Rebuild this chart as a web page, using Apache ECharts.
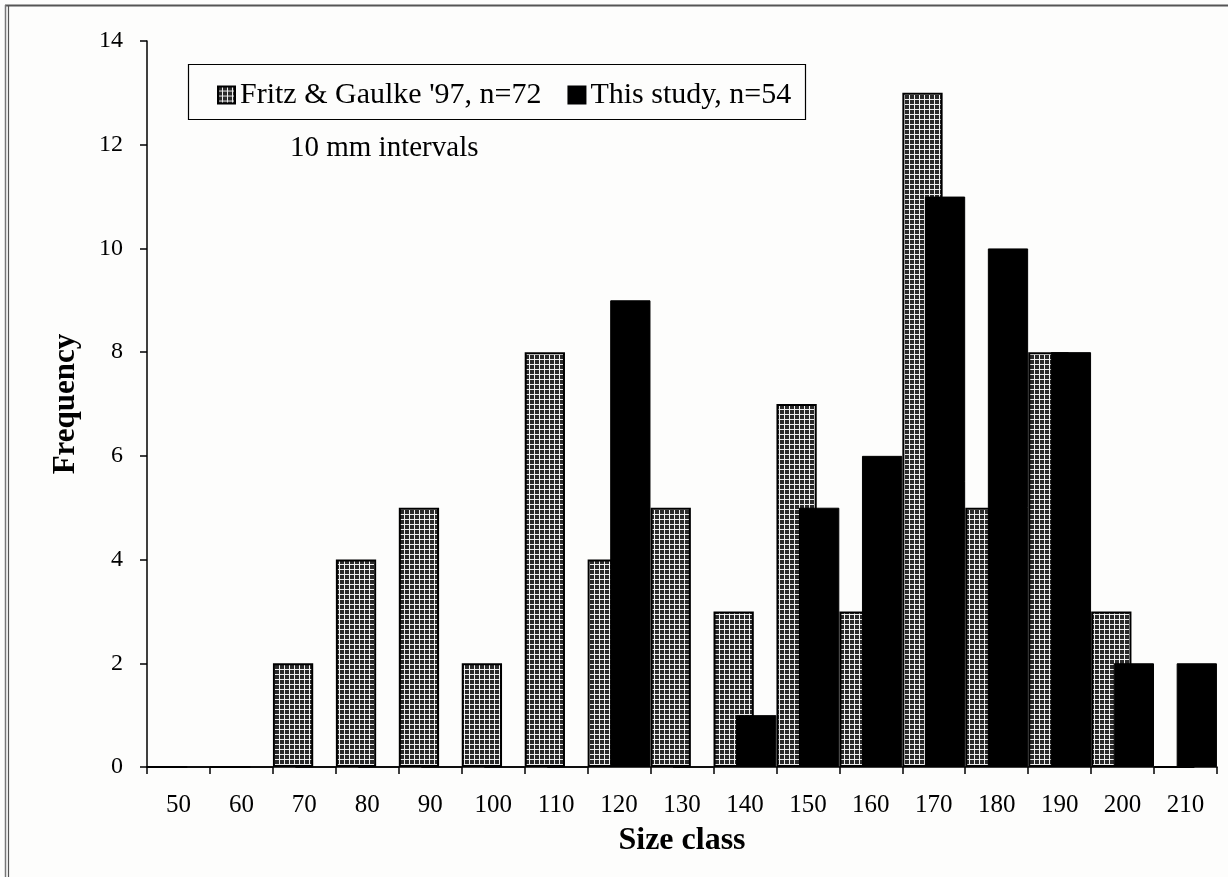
<!DOCTYPE html>
<html>
<head>
<meta charset="utf-8">
<script src="https://cdn.jsdelivr.net/npm/echarts@6/dist/echarts.min.js"></script>
<style>
html,body{margin:0;padding:0;background:#fdfdfc;}
#chart{width:1228px;height:877px;}
</style>
</head>
<body>
<div id="chart"></div>
<script>
// ---- data ----
var categories = ['50','60','70','80','90','100','110','120','130','140','150','160','170','180','190','200','210'];
var fritzValues = [0,0,2,4,5,2,8,4,5,3,7,3,13,5,8,3,0];
var studyValues = [0,0,0,0,0,0,0,9,0,1,5,6,11,10,8,2,2];
var seriesNames = ["Fritz & Gaulke '97, n=72", 'This study, n=54'];
var yMin = 0, yMax = 14, yStep = 2;
var noteText = '10 mm intervals';
var xTitle = 'Size class';
var yTitle = 'Frequency';

// ---- pattern fill ----
var pc = document.createElement('canvas');
pc.width = 5; pc.height = 5;
var pctx = pc.getContext('2d');
pctx.fillStyle = '#f0f0f0';
pctx.fillRect(0, 0, 5, 5);
pctx.fillStyle = '#2a2a2a';
pctx.fillRect(0, 0, 4, 4);

var serif = "'Liberation Serif','Times New Roman',serif";
var chart = echarts.init(document.getElementById('chart'), null, {renderer: 'canvas'});
chart.setOption({
  backgroundColor: '#fdfdfc',
  animation: false,
  grid: {left: 147, right: 11, top: 41, bottom: 110, containLabel: false},
  legend: {
    left: 212, top: 75,
    itemWidth: 17, itemHeight: 17, itemGap: 26,
    icon: 'rect',
    textStyle: {fontFamily: serif, fontSize: 30, color: '#000'},
    data: seriesNames
  },
  xAxis: {
    type: 'category',
    data: categories,
    name: xTitle,
    nameLocation: 'middle',
    nameGap: 58,
    nameTextStyle: {fontFamily: serif, fontSize: 32, fontWeight: 'bold', color: '#000'},
    axisLine: {lineStyle: {color: '#000', width: 1.5}},
    axisTick: {show: true, length: 7, lineStyle: {color: '#000', width: 1.5}},
    axisLabel: {fontFamily: serif, fontSize: 25, color: '#000', margin: 26}
  },
  yAxis: {
    type: 'value',
    min: yMin, max: yMax, interval: yStep,
    name: yTitle,
    nameLocation: 'middle',
    nameRotate: 90,
    nameGap: 66,
    nameTextStyle: {fontFamily: serif, fontSize: 31, fontWeight: 'bold', color: '#000'},
    axisLine: {show: true, lineStyle: {color: '#000', width: 1.5}},
    axisTick: {show: true, length: 7, lineStyle: {color: '#000', width: 1.5}},
    axisLabel: {fontFamily: serif, fontSize: 24, color: '#000', margin: 24},
    splitLine: {show: false}
  },
  series: [
    {
      name: seriesNames[0], type: 'bar', data: fritzValues,
      barWidth: '64%', barGap: '-44%',
      itemStyle: {color: {image: pc, repeat: 'repeat'}, borderColor: '#000', borderWidth: 2}
    },
    {
      name: seriesNames[1], type: 'bar', data: studyValues,
      barWidth: '64%', barGap: '-44%',
      itemStyle: {color: '#000', borderColor: '#000', borderWidth: 1}
    }
  ],
  graphic: [
    {type: 'rect', shape: {x: 188.5, y: 64.5, width: 617, height: 55}, style: {fill: null, stroke: '#000', lineWidth: 1.2}, z: 0},
    {type: 'text', left: 290, top: 134, style: {text: noteText, font: '29px ' + serif, fill: '#000'}},
    {type: 'line', shape: {x1: 5, y1: 5.5, x2: 1228, y2: 5.5}, style: {stroke: '#555', lineWidth: 2}},
    {type: 'line', shape: {x1: 5.5, y1: 5, x2: 5.5, y2: 877}, style: {stroke: '#777', lineWidth: 1.5}},
    {type: 'line', shape: {x1: 8.5, y1: 5, x2: 8.5, y2: 877}, style: {stroke: '#555', lineWidth: 1.2}}
  ]
});
</script>
</body>
</html>
